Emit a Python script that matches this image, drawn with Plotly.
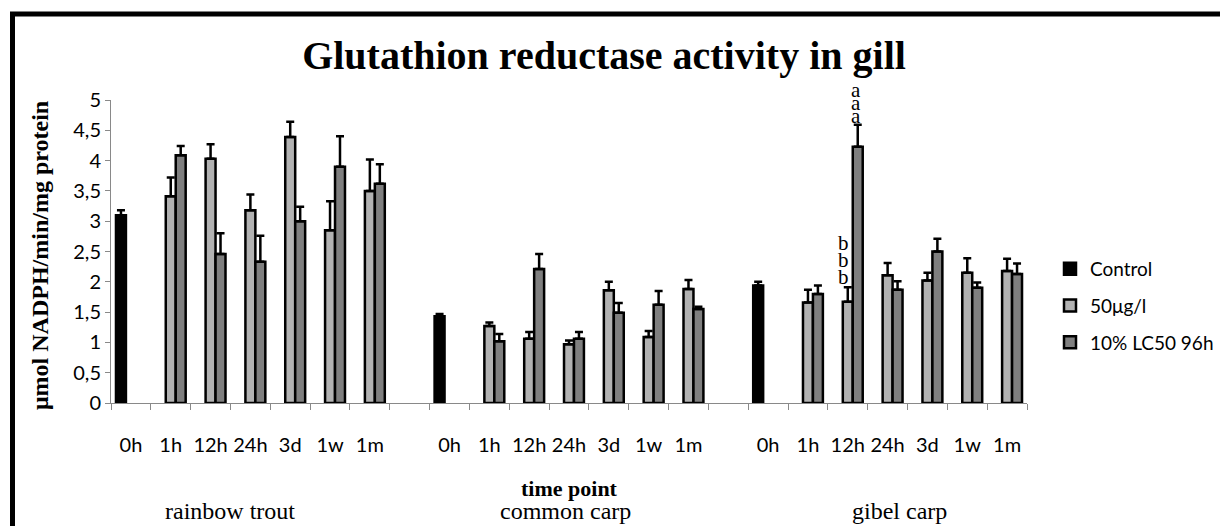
import plotly.graph_objects as go

# ---------------- data ----------------
time_labels = ["0h", "1h", "12h", "24h", "3d", "1w", "1m"]
species = ["rainbow trout", "common carp", "gibel carp"]

control_mean = [3.10, 1.43, 1.94]
control_err = [0.08, 0.04, 0.06]

rt_50 = [None, 3.41, 4.03, 3.18, 4.39, 2.85, 3.50]
rt_50_err = [None, 0.31, 0.24, 0.26, 0.25, 0.48, 0.52]
rt_10 = [None, 4.09, 2.46, 2.33, 3.00, 3.90, 3.62]
rt_10_err = [None, 0.15, 0.34, 0.43, 0.24, 0.50, 0.32]

cc_50 = [None, 1.27, 1.06, 0.97, 1.86, 1.09, 1.88]
cc_50_err = [None, 0.06, 0.11, 0.06, 0.14, 0.10, 0.15]
cc_10 = [None, 1.02, 2.21, 1.06, 1.49, 1.62, 1.55]
cc_10_err = [None, 0.12, 0.25, 0.11, 0.16, 0.23, 0.04]

gc_50 = [None, 1.66, 1.67, 2.11, 2.02, 2.15, 2.18]
gc_50_err = [None, 0.21, 0.24, 0.20, 0.13, 0.24, 0.20]
gc_10 = [None, 1.80, 4.23, 1.87, 2.50, 1.90, 2.13]
gc_10_err = [None, 0.14, 0.36, 0.14, 0.21, 0.09, 0.17]

series_names = ["Control", "50μg/l", "10% LC50 96h"]
colors = ["#000000", "#b2b2b2", "#7f7f7f"]

# ---------------- layout helpers ----------------
GROUP = 8  # 7 time points + 1 empty slot between species
W, H = 1220, 526
L, R, T, B = 111, 193, 100, 123
PW, PH = W - L - R, H - T - B


def px_x(p):
    return (p - L) / PW


def px_y(p):
    return (H - B - p) / PH


xs_all, v50, e50, v10, e10 = [], [], [], [], []
for s, (a50, ae50, a10, ae10) in enumerate([(rt_50, rt_50_err, rt_10, rt_10_err),
                                             (cc_50, cc_50_err, cc_10, cc_10_err),
                                             (gc_50, gc_50_err, gc_10, gc_10_err)]):
    for t in range(len(time_labels)):
        xs_all.append(s * GROUP + t)
        v50.append(a50[t]); e50.append(ae50[t])
        v10.append(a10[t]); e10.append(ae10[t])

x_ctrl = [s * GROUP for s in range(len(species))]

fig = go.Figure()


def err(arr):
    return dict(type="data", array=arr, arrayminus=[0] * len(arr), symmetric=False,
                color="black", thickness=2.5, width=4)


fig.add_trace(go.Bar(x=x_ctrl, y=control_mean, name=series_names[0], legendgroup="c",
                     marker=dict(color=colors[0], line=dict(color="black", width=2.5)),
                     error_y=err(control_err)))
fig.add_trace(go.Bar(x=xs_all, y=v50, name=series_names[1], legendgroup="a",
                     marker=dict(color=colors[1], line=dict(color="black", width=2.5)),
                     error_y=err(e50)))
fig.add_trace(go.Bar(x=xs_all, y=v10, name=series_names[2], legendgroup="b",
                     marker=dict(color=colors[2], line=dict(color="black", width=2.5)),
                     error_y=err(e10)))

tickvals = xs_all
ticktext = [time_labels[t] for s in range(len(species)) for t in range(len(time_labels))]
n_cat = GROUP * (len(species) - 1) + len(time_labels)

annotations = []
# species labels
for s, (name, xc) in enumerate(zip(species, [2.5, 10.9, 19.3])):
    annotations.append(dict(text=name, x=xc, xref="x", y=px_y(511), yref="paper",
                            showarrow=False, xanchor="center", yanchor="middle",
                            font=dict(family="Liberation Serif", size=24, color="black")))
# x axis title
annotations.append(dict(text="<b>time point</b>", x=0.5, xref="paper", y=px_y(488), yref="paper",
                        showarrow=False, xanchor="center", yanchor="middle",
                        font=dict(family="Liberation Serif", size=22, color="black")))
# y axis title
annotations.append(dict(text="<b>μmol NADPH/min/mg protein</b>", x=px_x(40), xref="paper",
                        y=px_y(256), yref="paper", textangle=-90, showarrow=False,
                        xanchor="center", yanchor="middle",
                        font=dict(family="Liberation Serif", size=24, color="black")))
# significance letters (gibel carp, 12h)
slot = (1 - 0.25) / 3
gx = 2 * GROUP + 2
for k in range(3):
    annotations.append(dict(text="a", x=gx + slot, y=gc_10[2] + gc_10_err[2], xref="x", yref="y",
                            showarrow=False, xanchor="center", yanchor="bottom",
                            xshift=-2, yshift=-5 + 13 * k,
                            font=dict(family="Liberation Serif", size=21, color="black")))
    annotations.append(dict(text="b", x=gx, y=gc_50[2] + gc_50_err[2], xref="x", yref="y",
                            showarrow=False, xanchor="center", yanchor="bottom",
                            xshift=-4, yshift=-4 + 17 * k,
                            font=dict(family="Liberation Serif", size=21, color="black")))

fig.update_layout(
    width=W, height=H,
    margin=dict(l=L, r=R, t=T, b=B, autoexpand=False),
    paper_bgcolor="white", plot_bgcolor="white",
    separators=",.",
    barmode="group", bargap=0.25, bargroupgap=0,
    title=dict(text="<b>Glutathion reductase activity in gill</b>", x=px_x(604), xref="paper",
               xanchor="center", y=1 - 55 / H, yref="container", yanchor="middle",
               font=dict(family="Liberation Serif", size=40, color="black")),
    font=dict(family="Lato", size=20, color="black"),
    showlegend=True,
    legend=dict(x=px_x(1050), xanchor="left", y=px_y(250), yanchor="top",
                traceorder="grouped", tracegroupgap=9, itemwidth=30,
                font=dict(family="Lato", size=19, color="black"),
                bgcolor="rgba(0,0,0,0)"),
    xaxis=dict(range=[-0.5, n_cat - 0.5], tickmode="array", tickvals=tickvals, ticktext=ticktext,
               ticks="", showline=True, linecolor="#898989", linewidth=1, showgrid=False,
               zeroline=False, ticklabelstandoff=24,
               tickfont=dict(family="Lato", size=20, color="black"),
               minor=dict(tickmode="linear", tick0=-0.5, dtick=1, ticks="outside", ticklen=6,
                          tickcolor="#898989", tickwidth=1, showgrid=False)),
    yaxis=dict(range=[0, 5], dtick=0.5, tick0=0, ticks="outside", ticklen=5, tickcolor="#898989",
               showline=True, linecolor="#898989", linewidth=1, showgrid=False, zeroline=False,
               tickfont=dict(family="Lato", size=20, color="black")),
    annotations=annotations,
    shapes=[dict(type="rect", xref="paper", yref="paper",
                 x0=px_x(12.5), x1=px_x(1245), y0=px_y(14), y1=px_y(560),
                 line=dict(color="black", width=5), fillcolor="rgba(0,0,0,0)", layer="above")],
)

fig.write_html("out.html")
